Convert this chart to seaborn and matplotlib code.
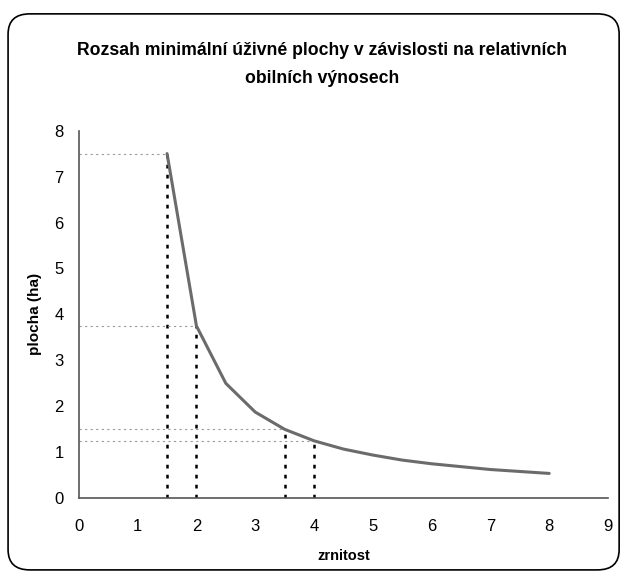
import matplotlib
matplotlib.use("Agg")
import matplotlib.pyplot as plt
import seaborn as sns
import pandas as pd
from matplotlib.patches import FancyBboxPatch

zrnitost = [1.5, 2, 2.5, 3, 3.5, 4, 4.5, 5, 5.5, 6, 7, 8]
plocha = [7.5, 3.75, 2.5, 1.875, 1.5, 1.25, 1.07, 0.94, 0.83, 0.75, 0.625, 0.54]
mark_x = [1.5, 2, 3.5, 4]
mark_y = [7.5, 3.75, 1.5, 1.25]

title = "Rozsah minimální úživné plochy v závislosti na relativních\nobilních výnosech"


def main():
    sns.set_style("white")
    plt.rcParams["font.family"] = ["Liberation Sans", "DejaVu Sans"]
    plt.rcParams["text.color"] = "black"
    plt.rcParams["axes.labelcolor"] = "black"

    df = pd.DataFrame({"zrnitost": zrnitost, "plocha": plocha})

    fig = plt.figure(figsize=(6.21, 5.78), dpi=100)
    ax = fig.add_axes([0.127, 0.138, 0.852, 0.636])

    # rounded frame round the chart area
    frame = FancyBboxPatch((0.013, 0.014), 0.984, 0.962, boxstyle="round,pad=0,rounding_size=0.035",
                           transform=fig.transFigure, fill=False, edgecolor="black", linewidth=1.2,
                           zorder=0)
    fig.patches.append(frame)

    # helper lines
    for xv, yv in zip(mark_x, mark_y):
        ax.plot([0, xv], [yv, yv], color="#999999", linestyle=(0, (2, 3)), linewidth=0.8)
        ax.plot([xv, xv], [0, yv], color="black", linestyle=(0, (1.5, 2.5)), linewidth=1.8)

    sns.lineplot(data=df, x="zrnitost", y="plocha", color="#6b6b6b", linewidth=2.2, ax=ax)

    ax.set_xlim(0, 9)
    ax.set_ylim(0, 8)
    ax.set_xticks(range(0, 10))
    ax.set_yticks(range(0, 9))
    ax.tick_params(axis="both", direction="out", length=5, width=1, color="#555555",
                   labelsize=12, labelcolor="black")
    ax.tick_params(axis="x", pad=10)
    ax.tick_params(axis="y", pad=6)
    for s in ["top", "right"]:
        ax.spines[s].set_visible(False)
    for s in ["left", "bottom"]:
        ax.spines[s].set_color("#555555")
        ax.spines[s].set_linewidth(1.2)

    ax.set_xlabel("zrnitost", fontsize=10.5, fontweight="bold", labelpad=11)
    ax.set_ylabel("plocha (ha)", fontsize=11, fontweight="bold", labelpad=9)
    fig.text(0.518, 0.889, title, ha="center", va="center", fontsize=12.7, fontweight="bold",
             linespacing=1.85)

    fig.savefig("out.png", dpi=100)


if __name__ == "__main__":
    main()
